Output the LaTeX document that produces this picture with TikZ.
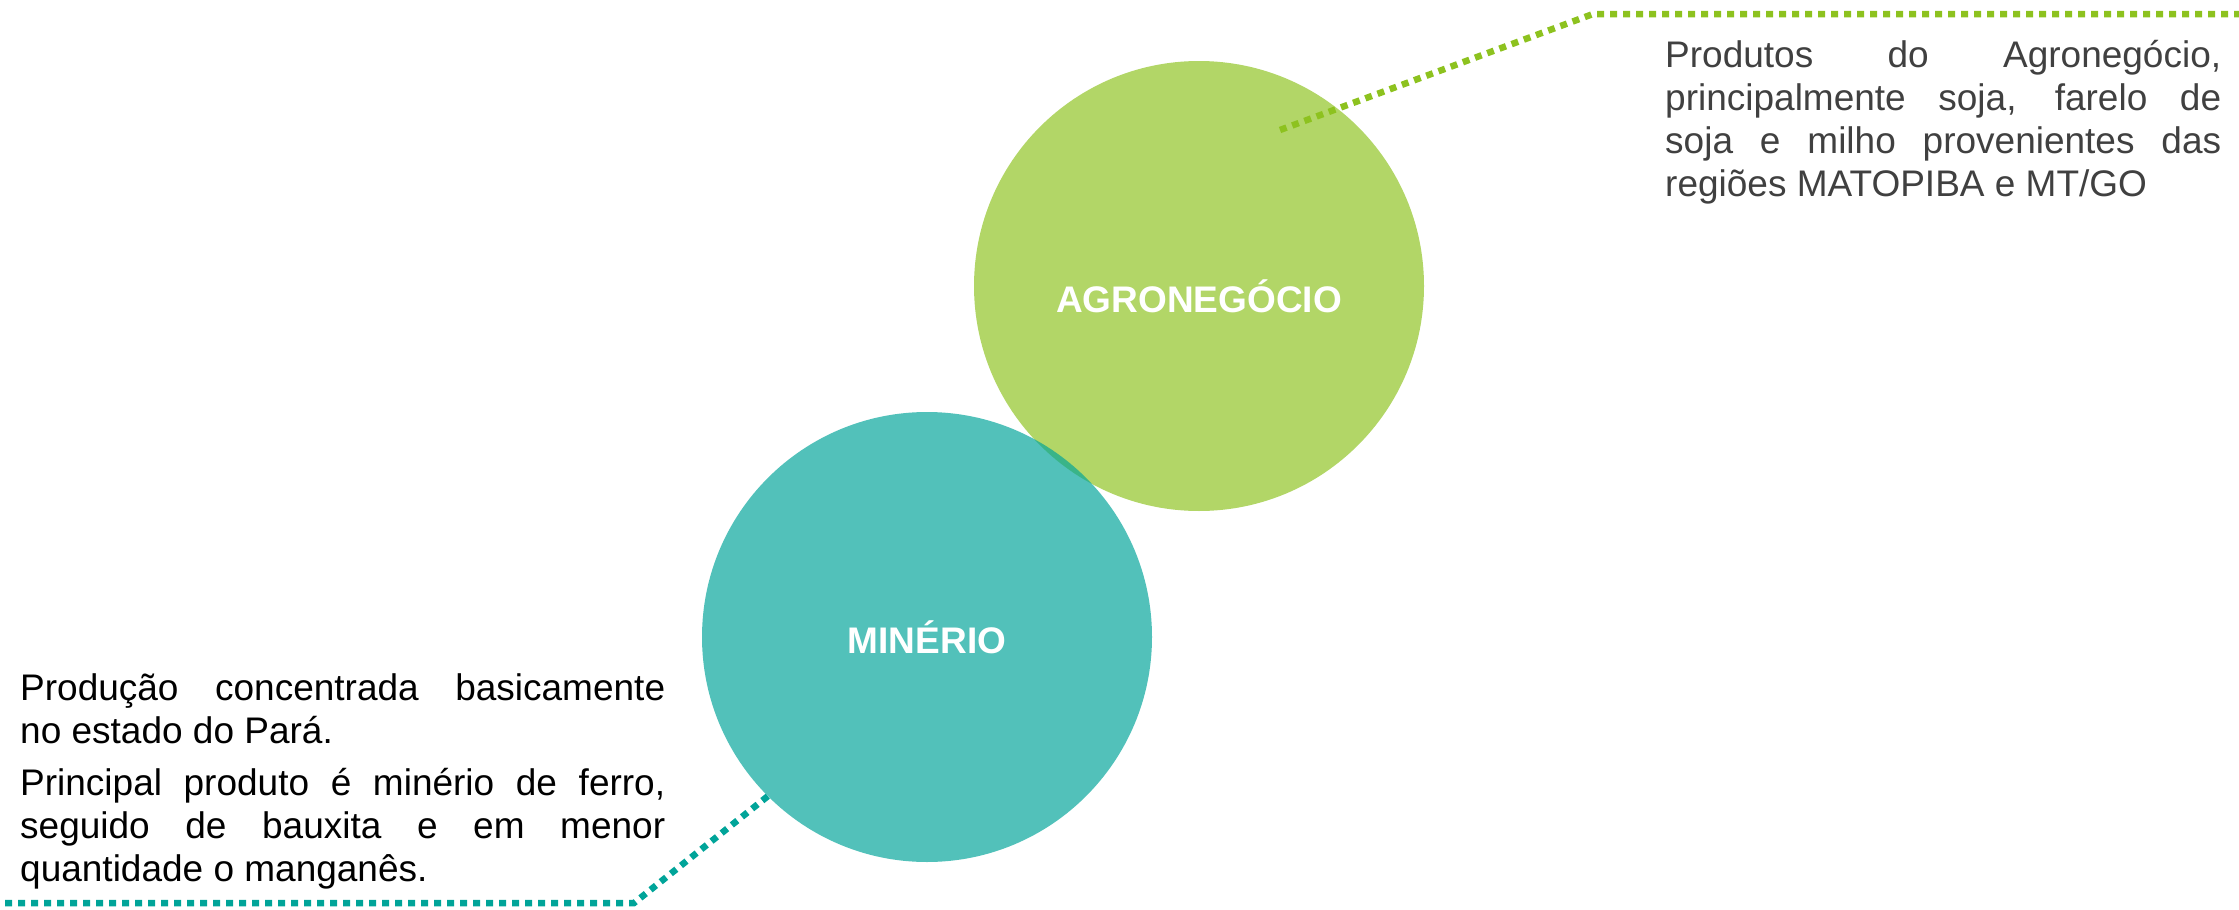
\documentclass[tikz,border=0pt]{standalone}
\usepackage{fontspec}
\setmainfont{Liberation Sans}
\definecolor{agrogreen}{HTML}{8DC21F}
\definecolor{minteal}{HTML}{00A499}
\definecolor{textgray}{HTML}{404040}

\begin{document}
\begin{tikzpicture}[x=1pt, y=-1pt]
    % Estilos dos circulos, linhas pontilhadas e textos
    \tikzstyle{bubble} = [circle, minimum size=450pt, inner sep=0pt, fill opacity=0.68, text opacity=1, text=white, font=\fontsize{37}{44}\selectfont\bfseries]
    \tikzstyle{dotline} = [line width=6.5pt, dash pattern=on 7pt off 6pt]
    \tikzstyle{note} = [inner sep=0pt, anchor=base west, align=justify, font=\fontsize{37}{43}\selectfont]

    \useasboundingbox (0,0) rectangle (2239,910);

    % Circulos
    \node[bubble, fill=agrogreen, text height=54pt] (agro) at (1199,286) {AGRONEGÓCIO};
    \node[bubble, fill=minteal] (mine) at (927,637) {MINÉRIO};

    % Pontos das linhas
    \coordinate (agrotip) at (1280,130);
    \coordinate (agrobend) at (1593,14);
    \coordinate (agroend) at (2239,14);
    \coordinate (minebend) at (634,903);
    \coordinate (mineend) at (4,903);

    \draw[dotline, agrogreen] (agrotip) -- (agrobend) -- (agroend);
    \draw[dotline, minteal] (mine.225) -- (minebend) -- (mineend);

    % Textos
    \node[note, text width=556pt, text=textgray] (agrotext) at (1665,67) {Produtos do Agronegócio,\linebreak principalmente soja, farelo de\linebreak soja e milho provenientes das\linebreak regiões MATOPIBA e MT/GO};
    \node[note, text width=645pt] (minetext) at (20,700) {Produção concentrada basicamente\linebreak no estado do Pará.\par\vspace{9pt}Principal produto é minério de ferro,\linebreak seguido de bauxita e em menor\linebreak quantidade o manganês.};
\end{tikzpicture}
\end{document}
